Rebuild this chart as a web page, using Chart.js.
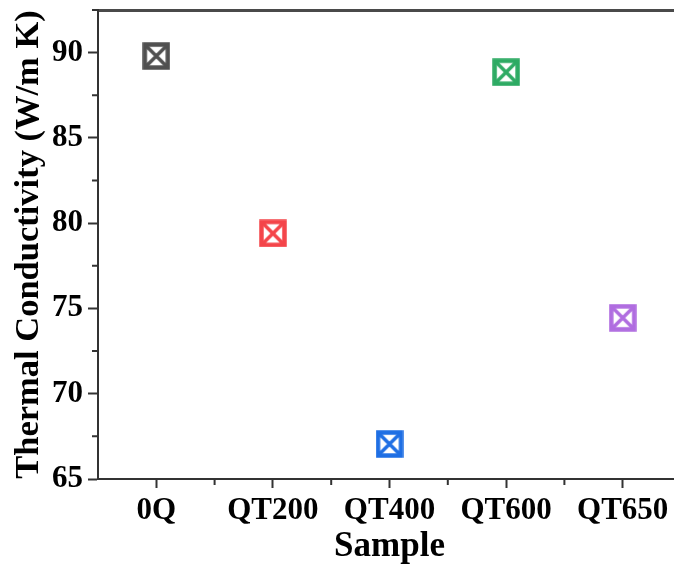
<!DOCTYPE html>
<html lang="en">
<head>
  <meta charset="UTF-8">
  <title>Thermal Conductivity by Sample</title>
  <script src="https://cdn.jsdelivr.net/npm/chart.js"></script>
  <style>
    html, body { margin: 0; padding: 0; background: #fff; overflow: hidden; }
    #wrap { width: 681px; height: 568px; }
  </style>
</head>
<body>
  <div id="wrap"><canvas id="tcChart"></canvas></div>

  <script>
    // data
    const samples = ['0Q', 'QT200', 'QT400', 'QT600', 'QT650'];
    const conductivity = [89.8, 79.4, 67.05, 88.85, 74.45];
    const yTicks = [65, 70, 75, 80, 85, 90];

    const markerColors = ['#505050', '#f4454a', '#1f6fe4', '#2eab64', '#b06de0'];
    const axisColor = '#333333';
    const fontFamily = '"Liberation Serif", "Times New Roman", serif';

    // square with an X inside, drawn once per colour
    function crossedSquare(color) {
      const s = 28;
      const c = document.createElement('canvas');
      c.width = s; c.height = s;
      const g = c.getContext('2d');
      g.strokeStyle = color;
      g.lineWidth = 4.5;
      g.strokeRect(2.5, 2.5, s - 5, s - 5);
      g.lineWidth = 3.5;
      g.beginPath();
      g.moveTo(4, 4); g.lineTo(s - 4, s - 4);
      g.moveTo(s - 4, 4); g.lineTo(4, s - 4);
      g.stroke();
      return c;
    }

    // minor ticks between the labelled ones
    const minorTicks = {
      id: 'minorTicks',
      afterDraw(chart) {
        const ctx = chart.ctx;
        const x = chart.scales.x, y = chart.scales.y;
        ctx.save();
        ctx.strokeStyle = axisColor;
        ctx.lineWidth = 2;
        ctx.beginPath();
        for (let i = 0; i < yTicks.length; i++) {
          const py = y.getPixelForValue(yTicks[i] + 2.5);
          ctx.moveTo(y.right - 6, py); ctx.lineTo(y.right, py);
        }
        for (let i = 0; i < samples.length - 1; i++) {
          const px = (x.getPixelForValue(i) + x.getPixelForValue(i + 1)) / 2;
          ctx.moveTo(px, x.top); ctx.lineTo(px, x.top + 6);
        }
        ctx.stroke();
        ctx.restore();
      }
    };

    const ctx = document.getElementById('tcChart').getContext('2d');
    const tcChart = new Chart(ctx, {
      type: 'line',
      data: {
        labels: samples,
        datasets: [{
          data: conductivity,
          showLine: false,
          pointStyle: markerColors.map(crossedSquare),
          pointRadius: 14,
          pointHoverRadius: 14
        }]
      },
      options: {
        responsive: true,
        maintainAspectRatio: false,
        animation: false,
        layout: { autoPadding: false, padding: { top: 10, left: 0, right: 0, bottom: 0 } },
        plugins: { legend: { display: false }, tooltip: { enabled: false } },
        scales: {
          x: {
            type: 'category',
            offset: true,
            afterFit: (scale) => {
              scale.height = 89;
              scale.paddingLeft = 0;
              scale.paddingRight = 0;
            },
            border: { color: axisColor, width: 2 },
            grid: { offset: false, drawOnChartArea: false, tickLength: 9, tickWidth: 2, tickColor: axisColor },
            ticks: { color: '#000', padding: 4, maxRotation: 0, font: { family: fontFamily, size: 31, weight: 'bold' } },
            title: {
              display: true, text: 'Sample', color: '#000',
              padding: { top: 0, bottom: 0 },
              font: { family: fontFamily, size: 35, weight: 'bold' }
            }
          },
          x2: {
            type: 'category',
            position: 'top',
            afterFit: (scale) => {
              scale.height = 0;
              scale.paddingLeft = 0;
              scale.paddingRight = 0;
            },
            border: { color: '#4a4a4a', width: 3 },
            grid: { display: false, drawTicks: false },
            ticks: { display: false }
          },
          y: {
            min: 65,
            max: 92.5,
            afterFit: (scale) => {
              scale.width = 98;
              scale.paddingTop = 0;
              scale.paddingBottom = 0;
            },
            afterBuildTicks: (scale) => {
              scale.ticks = scale.ticks.filter(t => yTicks.includes(t.value));
            },
            border: { color: axisColor, width: 2 },
            grid: { drawOnChartArea: false, tickLength: 10, tickWidth: 2, tickColor: axisColor },
            ticks: { stepSize: 5, color: '#000', padding: 5, font: { family: fontFamily, size: 31, weight: 'bold' } },
            title: {
              display: true, text: 'Thermal Conductivity (W/m K)', color: '#000',
              padding: { top: 8, bottom: 0 },
              font: { family: fontFamily, size: 34.5, weight: 'bold' }
            }
          }
        }
      },
      plugins: [minorTicks]
    });
  </script>
</body>
</html>
